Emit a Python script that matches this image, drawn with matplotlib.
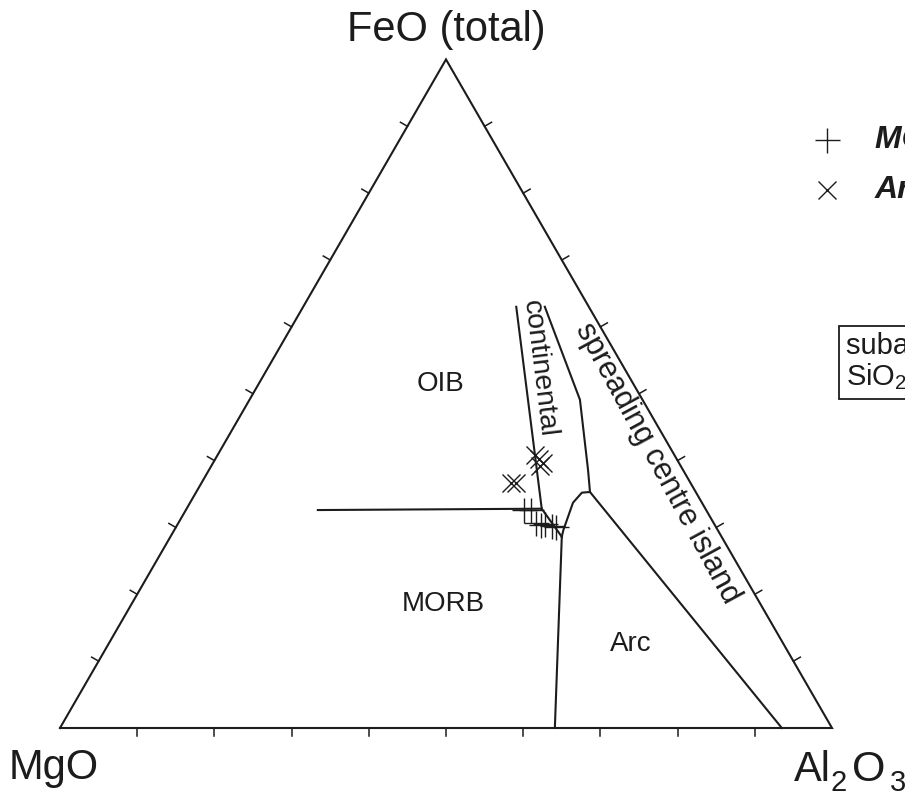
import numpy as np
import matplotlib.pyplot as plt

plt.rcParams['font.family'] = ['Liberation Sans', 'DejaVu Sans']
plt.rcParams['mathtext.fontset'] = 'custom'
plt.rcParams['mathtext.rm'] = 'Liberation Sans'
plt.rcParams['mathtext.it'] = 'Liberation Sans:italic'
plt.rcParams['mathtext.bf'] = 'Liberation Sans:bold'

# compositions as (MgO, FeO(total), Al2O3) in %
oib_morb = [(50.3, 32.6, 17.1), (21.2, 32.8, 46.0)]
cont_left = [(9.4, 63.0, 27.6), (21.2, 32.8, 46.0)]
cont_base = [(21.2, 32.8, 46.0), (20.7, 28.6, 50.7)]
morb_arc = [(20.7, 28.6, 50.7), (35.9, 0.0, 64.1)]
cont_right = [(5.7, 63.0, 31.3), (8.1, 49.1, 42.8), (12.3, 38.6, 49.1), (13.7, 35.3, 51.0)]
arc_sci = [(13.7, 35.3, 51.0), (6.5, 0.0, 93.5)]
arc_top = [(13.7, 35.3, 51.0), (14.8, 35.2, 50.0), (16.7, 33.7, 49.6),
           (20.0, 29.6, 50.4), (20.7, 28.6, 50.7)]
boundaries = [oib_morb, cont_left, cont_base, morb_arc, cont_right, arc_sci, arc_top]

# samples
plus_pts = [(22.7, 32.6, 44.7), (23.6, 32.6, 43.8), (23.0, 30.7, 46.3), (22.5, 30.4, 47.1),
            (21.9, 30.5, 47.6), (21.2, 30.2, 48.6), (20.7, 30.1, 49.2)]
cross_pts = [(23.3, 36.6, 40.1), (22.6, 36.6, 40.8), (18.1, 40.8, 41.1), (17.8, 40.2, 42.0),
             (17.7, 39.6, 42.7), (18.2, 39.2, 42.6)]

legend_names = ['MORB-type basalts', 'Arc-type basalts']
box_text = 'subalkaline basalts\nSiO$_2$ 51-56 wt%'

SQ = np.sqrt(3) / 2
INK = '#1c1c1c'


def tern(pts):
    a = np.array(pts, float)
    a = a / a.sum(axis=1, keepdims=True)
    fe, al = a[:, 1], a[:, 2]
    return al + fe / 2, fe * SQ


# pixel layout: MgO corner at (60,728), side 772 px
X0, Y0, S = 60.0, 728.0, 772.0


def px(x, y):
    return (x - X0) / S, (Y0 - y) / S


fig = plt.figure(figsize=(9.05, 7.96), dpi=100)
ax = fig.add_axes([0, 0, 1, 1])
ax.set_xlim(-X0 / S, (905 - X0) / S)
ax.set_ylim((Y0 - 796) / S, Y0 / S)
ax.axis('off')

# triangle
tx, ty = tern([(100, 0, 0), (0, 0, 100), (0, 100, 0), (100, 0, 0)])
ax.plot(tx, ty, color=INK, lw=1.5, solid_joinstyle='miter')

# ticks every 10 %
tl = 8 / S
for i in range(1, 10):
    f = i * 10
    for pt, ang in [((100 - f, 0, f), -90), ((100 - f, f, 0), 150), ((0, f, 100 - f), 30)]:
        x, y = tern([pt])
        d = np.deg2rad(ang)
        ax.plot([x[0], x[0] + tl * np.cos(d)], [y[0], y[0] + tl * np.sin(d)], color=INK, lw=1.1)

for b in boundaries:
    bx, by = tern(b)
    ax.plot(bx, by, color=INK, lw=1.5)

x, y = tern(plus_pts)
ax.plot(x, y, '+', ms=18, mew=1.0, color=INK)
x, y = tern(cross_pts)
ax.plot(x, y, 'x', ms=13, mew=1.0, color=INK)

# corner labels
ax.text(*px(446, 30), 'FeO (total)', fontsize=30, ha='center', va='center', color=INK)
ax.text(*px(54, 768), 'MgO', fontsize=30, ha='center', va='center', color=INK)
ax.text(*px(794, 781), 'Al', fontsize=30, ha='left', va='baseline', color=INK)
ax.text(*px(830, 791), '2', fontsize=21, ha='left', va='baseline', color=INK)
ax.text(*px(852, 781), 'O', fontsize=31, ha='left', va='baseline', color=INK)
ax.text(*px(890, 791), '3', fontsize=21, ha='left', va='baseline', color=INK)

# field labels
ax.text(*px(440, 384), 'OIB', fontsize=20, ha='center', va='center', color=INK)
ax.text(*px(443, 604), 'MORB', fontsize=20, ha='center', va='center', color=INK)
ax.text(*px(631, 644), 'Arc', fontsize=20, ha='center', va='center', color=INK)
ax.text(*px(539, 369), 'continental', fontsize=20.5, ha='center', va='center',
        rotation=-83, rotation_mode='anchor', color=INK)
ax.text(*px(657, 463), 'spreading centre island', fontsize=22, ha='center', va='center',
        rotation=-61.5, rotation_mode='anchor', color=INK)

# legend
ax.plot(*px(827, 140), '+', ms=18, mew=1.0, color=INK)
ax.plot(*px(827, 190), 'x', ms=13, mew=1.0, color=INK)
ax.text(*px(875, 140), legend_names[0], fontsize=23, fontweight='bold', fontstyle='italic',
        ha='left', va='center', color=INK)
ax.text(*px(875, 190), legend_names[1], fontsize=23, fontweight='bold', fontstyle='italic',
        ha='left', va='center', color=INK)

ax.text(*px(846, 362), box_text, fontsize=21, ha='left', va='center', color=INK,
        linespacing=1.05,
        bbox=dict(boxstyle='square,pad=0.25', fc='white', ec=INK, lw=1.3))

fig.savefig('out.png', dpi=100)
